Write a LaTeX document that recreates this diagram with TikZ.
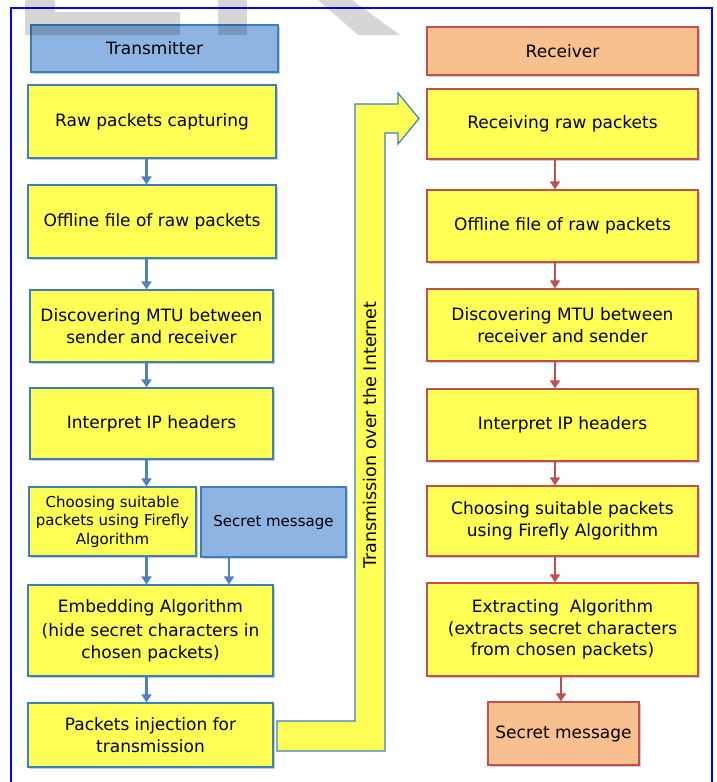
\documentclass[tikz,border=0pt]{standalone}
\usepackage{fontspec}
\setmainfont{DejaVu Sans}
\usetikzlibrary{arrows.meta,shadows}
\definecolor{boxyellow}{HTML}{FFFF55}
\definecolor{txblue}{HTML}{8EB4E3}
\definecolor{txline}{HTML}{3C7FC1}
\definecolor{rxorange}{HTML}{F9C08F}
\definecolor{rxline}{HTML}{C0504D}
\definecolor{txarrow}{HTML}{4F81BD}
\tikzset{
	box/.style = {
		draw, rectangle, line width=1.2pt, align=center, inner sep=2pt,
		font=\fontsize{17}{21.5}\selectfont,
		drop shadow={shadow xshift=2pt, shadow yshift=-2pt, opacity=0.2, fill=black},
	},
	small/.style = {font=\fontsize{15}{18.5}\selectfont},
	txstep/.style = {box, fill=boxyellow, draw=txline},
	rxstep/.style = {box, fill=boxyellow, draw=rxline},
	txhead/.style = {box, fill=txblue, draw=txline},
	rxhead/.style = {box, fill=rxorange, draw=rxline},
	txarr/.style = {draw=txarrow, line width=2.5pt, -{Triangle[width=10pt, length=8pt]}},
	rxarr/.style = {draw=rxline, line width=2.5pt, -{Triangle[width=10pt, length=8pt]}},
}

\begin{document}
\begin{tikzpicture}[x=1pt, y=-1pt]
	\useasboundingbox (0, 0) rectangle (717, 782);
	\clip (0, 0) rectangle (717, 782);
	\draw [blue, line width=2pt] (11, 8) rectangle (712, 800);

	\node[txhead, minimum width=247pt, minimum height=47pt] (tx) at (154.5, 48.5) {Transmitter};
	\node[txstep, minimum width=248pt, minimum height=73pt] (raw) at (152, 121.5) {Raw packets capturing};
	\node[txstep, minimum width=248pt, minimum height=73pt] (offl) at (152, 221.5) {Offline file of raw packets};
	\node[txstep, minimum width=243pt, minimum height=72pt] (mtu) at (151.5, 326) {Discovering MTU between\\sender and receiver};
	\node[txstep, minimum width=243pt, minimum height=71pt] (iph) at (151.5, 423.5) {Interpret IP headers};
	\node[txstep, small, minimum width=167pt, minimum height=69pt] (choose) at (112.5, 521.5) {Choosing suitable\\packets using Firefly\\Algorithm};
	\node[txhead, small, minimum width=145pt, minimum height=70pt] (secret) at (273.5, 522) {Secret message};
	\node[txstep, minimum width=245pt, minimum height=91pt] (embed) at (150.5, 630.5) {Embedding Algorithm\\[3pt](hide secret characters in\\chosen packets)};
	\node[txstep, minimum width=245pt, minimum height=64pt] (inject) at (150.5, 735) {Packets injection for\\transmission};

	\node[rxhead, minimum width=271pt, minimum height=48pt] (rx) at (562.5, 51) {Receiver};
	\node[rxstep, minimum width=271pt, minimum height=70pt] (rraw) at (562.5, 124) {Receiving raw packets};
	\node[rxstep, minimum width=271pt, minimum height=72pt] (roffl) at (562.5, 226) {Offline file of raw packets};
	\node[rxstep, minimum width=271pt, minimum height=72pt] (rmtu) at (562.5, 325) {Discovering MTU between\\receiver and sender};
	\node[rxstep, minimum width=271pt, minimum height=72pt] (riph) at (562.5, 425) {Interpret IP headers};
	\node[rxstep, minimum width=271pt, minimum height=70pt] (rchoose) at (562.5, 521) {Choosing suitable packets\\using Firefly Algorithm};
	\node[rxstep, minimum width=271pt, minimum height=93pt] (extract) at (562.5, 629.5) {Extracting~ Algorithm\\(extracts secret characters\\from chosen packets)};
	\node[rxhead, minimum width=151pt, minimum height=63pt] (rsecret) at (563.5, 733.5) {Secret message};

	\foreach \a/\b in {raw/offl, offl/mtu, mtu/iph, iph/choose, choose/embed, embed/inject}
	{
		\draw [txarr] (\a.south -| 146.5,0) -- (\b.north -| 146.5,0);
	}
	\draw [txarr] (secret.south -| 229,0) -- (embed.north -| 229,0);
	\foreach \a/\b in {rraw/roffl, roffl/rmtu, rmtu/riph, riph/rchoose, rchoose/extract}
	{
		\draw [rxarr] (\a.south -| 555,0) -- (\b.north -| 555,0);
	}
	\draw [rxarr] (extract.south -| 561,0) -- (rsecret.north -| 561,0);

	\draw [txline, line width=1.2pt, fill=boxyellow]
		(277, 721) -- (355, 721) -- (355, 104) -- (398, 104) -- (398, 93) --
		(419, 118.5) -- (398, 144) -- (398, 133) -- (385, 133) --
		(385, 751) -- (277, 751) -- cycle;
	\node[rotate=90, font=\fontsize{17.5}{21}\selectfont] (internet) at (370, 435) {Transmission over the Internet};

	\fill [black, opacity=0.16] (25, 0) -- (55, 0) -- (55, 12) -- (180, 12) -- (180, 35) -- (25, 35) -- cycle;
	\fill [black, opacity=0.16] (218, 0) rectangle (247, 35);
	\fill [black, opacity=0.16] (318, 0) -- (352, 0) -- (400, 35) -- (358, 35) -- cycle;
\end{tikzpicture}
\end{document}
